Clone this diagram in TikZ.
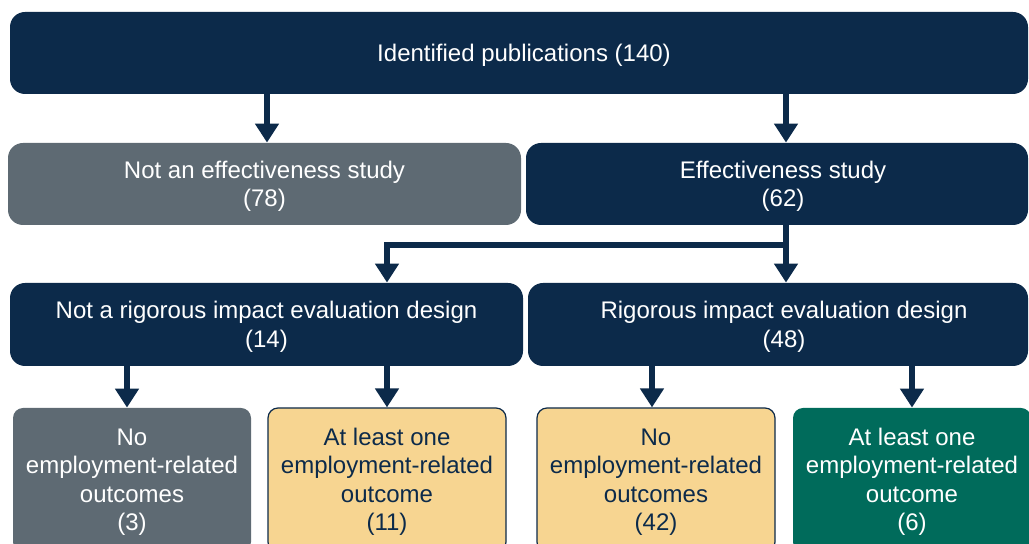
\documentclass[tikz,border=0pt]{standalone}
\usepackage{fontspec}
\setmainfont{Liberation Sans}
\usetikzlibrary{arrows.meta}
\definecolor{navy}{HTML}{0C2A4A}
\definecolor{slate}{HTML}{5E6A73}
\definecolor{sand}{HTML}{F7D591}
\definecolor{pine}{HTML}{006B5B}

\begin{document}
\begin{tikzpicture}[
  x=0.5pt,y=-0.5pt,
  box/.style={rectangle,fill=#1,rounded corners=7.5pt,inner sep=0pt,align=center,
    font=\fontsize{12}{14.3}\selectfont,text=white,minimum height=41pt},
  leaf/.style={box=#1,rounded corners=5pt,minimum width=119pt,minimum height=72pt},
  lightleaf/.style={leaf=sand,draw=navy,line width=0.6pt,text=navy},
  arr/.style={draw=navy,line width=2.8pt,-{Triangle[width=11.5pt,length=9.5pt]}},
]
  \clip (0,0) rectangle (1029,544);
  % boxes
  \node[box=navy,minimum width=509pt] (top) at (519,53) {\rule{0pt}{11pt}\hspace*{5pt}Identified publications (140)};
  \node[box=slate,minimum width=256.5pt] (noteff) at (264.5,184) {\rule{0pt}{11pt}Not an effectiveness study\\(78)};
  \node[box=navy,minimum width=251pt] (eff) at (777,184) {\rule{0pt}{11pt}\hspace*{6pt}Effectiveness study\\\hspace*{6pt}(62)};
  \node[box=navy,minimum width=256.5pt,minimum height=41.5pt] (notrig) at (266.5,324.5) {\rule{0pt}{11pt}Not a rigorous impact evaluation design\\(14)};
  \node[box=navy,minimum width=250pt,minimum height=41.5pt] (rig) at (778,324.5) {\rule{0pt}{11pt}\hspace*{6pt}Rigorous impact evaluation design\\\hspace*{6pt}(48)};
  \node[leaf=slate] (noA) at (132,480) {\rule{0pt}{10.5pt}No\\employment-related\\outcomes\\(3)};
  \node[lightleaf] (oneA) at (387,480) {\rule{0pt}{10.5pt}At least one\\employment-related\\outcome\\(11)};
  \node[lightleaf] (noB) at (656,480) {\rule{0pt}{10.5pt}No\\employment-related\\outcomes\\(42)};
  \node[leaf=pine] (oneB) at (912,480) {\rule{0pt}{10.5pt}At least one\\employment-related\\outcome\\(6)};
  % arrow columns
  \coordinate (c1) at (267,0);
  \coordinate (c2) at (786,0);
  \coordinate (c3) at (387,0);
  \coordinate (c4) at (127,0);
  \coordinate (c5) at (652,0);
  \coordinate (c6) at (912,0);
  \coordinate (split) at (786,245);
  \draw[arr] (top.south -| c1) -- (noteff.north -| c1);
  \draw[arr] (top.south -| c2) -- (eff.north -| c2);
  \draw[arr] (eff.south -| c2) -- (rig.north -| c2);
  \draw[arr] (split) -| (notrig.north -| c3);
  \draw[arr] (notrig.south -| c4) -- (noA.north -| c4);
  \draw[arr] (notrig.south -| c3) -- (oneA.north -| c3);
  \draw[arr] (rig.south -| c5) -- (noB.north -| c5);
  \draw[arr] (rig.south -| c6) -- (oneB.north -| c6);
\end{tikzpicture}
\end{document}
